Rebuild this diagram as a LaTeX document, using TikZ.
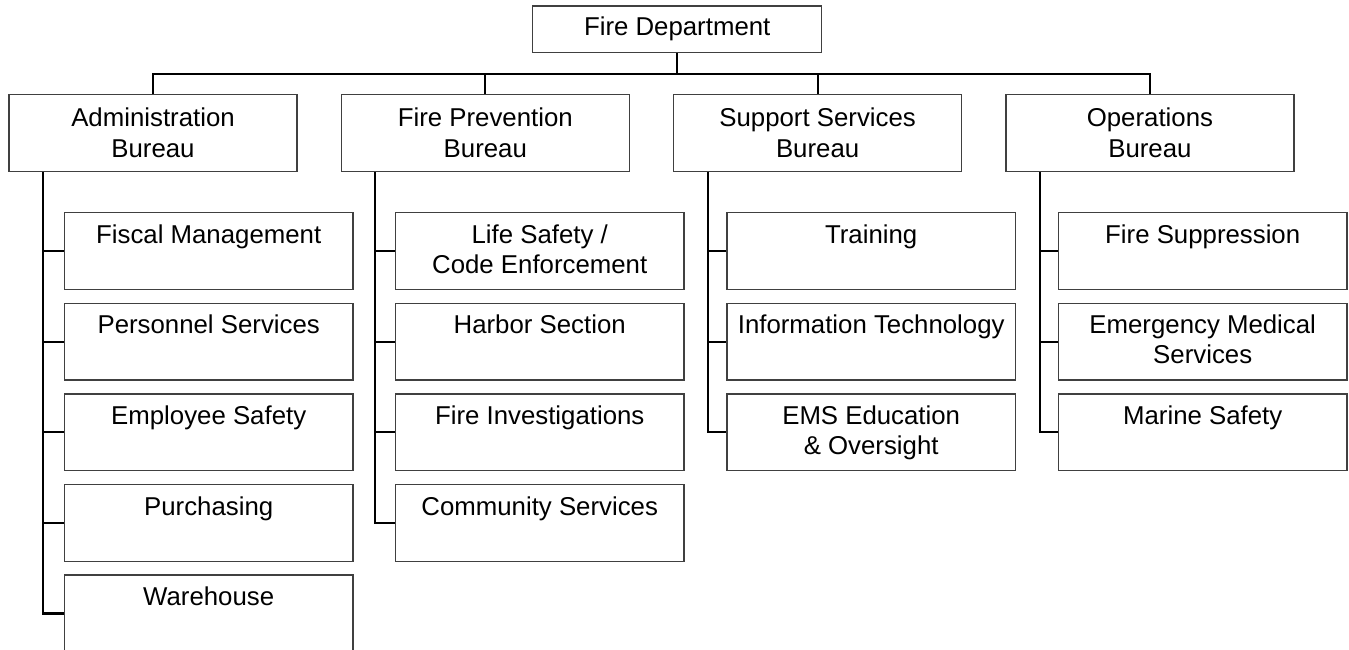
\documentclass[tikz,border=0pt]{standalone}
\usepackage{fontspec}
\setmainfont{Liberation Sans}
\usetikzlibrary{positioning,calc}
\newcommand{\unittext}[1]{\parbox[t][52.7pt][t]{284pt}{\centering #1}}

\begin{document}
\begin{tikzpicture}[x=1pt, y=-1pt, font=\fontsize{25.8}{30}\selectfont,
    box/.style={draw=black!75, line width=1.3pt, rectangle, inner sep=0pt, align=center},
    head/.style={box, minimum width=289pt, minimum height=46.3pt},
    bureau/.style={box, minimum width=288pt, minimum height=77.4pt, font=\fontsize{25.8}{31}\selectfont},
    unit/.style={box, minimum width=288.5pt, minimum height=76.7pt, inner ysep=12pt},
    link/.style={draw=black, line width=2.2pt}]
    \useasboundingbox (0,0) rectangle (1349,649);
    \clip (0,0) rectangle (1349,649);

    \node[head] (fire) at (677.2,29.2) {Fire Department};
    \node[bureau] (adm) at (153,133) {Administration\\Bureau};
    \node[bureau, right=43pt of adm] (fp) {Fire Prevention\\Bureau};
    \node[bureau, right=43pt of fp] (ss) {Support Services\\Bureau};
    \node[bureau, right=43pt of ss] (ops) {Operations\\Bureau};

    \coordinate (bus) at (677.2,73.7);
    \draw[link] (fire.south) -- (bus);
    \draw[link] (adm.north) |- (bus) -| (ops.north);
    \draw[link] (fp.north) -- (fp.north |- bus);
    \draw[link] (ss.north) -- (ss.north |- bus);

    \foreach \i/\txt in {0/Fiscal Management,1/Personnel Services,2/Employee Safety,3/Purchasing,4/Warehouse}
        \node[unit] (adm\i) at (208.7,251+90.6*\i) {\unittext{\txt}};
    \foreach \i/\txt in {0/{Life Safety /\\Code Enforcement},1/Harbor Section,2/Fire Investigations,3/Community Services}
        \node[unit] (fp\i) at (539.7,251+90.6*\i) {\unittext{\txt}};
    \foreach \i/\txt in {0/Training,1/Information Technology,2/{EMS Education\\\& Oversight}}
        \node[unit] (ss\i) at (871.2,251+90.6*\i) {\unittext{\txt}};
    \foreach \i/\txt in {0/Fire Suppression,1/{Emergency Medical\\Services},2/Marine Safety}
        \node[unit] (ops\i) at (1202.7,251+90.6*\i) {\unittext{\txt}};

    \foreach \b/\last in {adm/4,fp/3,ss/2,ops/2}{
        \coordinate (\b T) at ([xshift=34.7pt]\b.south west);
        \draw[link] (\b T) |- (\b\last.west);
        \foreach \i in {0,...,\last}
            \draw[link] (\b T |- \b\i.west) -- (\b\i.west);
    }
\end{tikzpicture}
\end{document}
